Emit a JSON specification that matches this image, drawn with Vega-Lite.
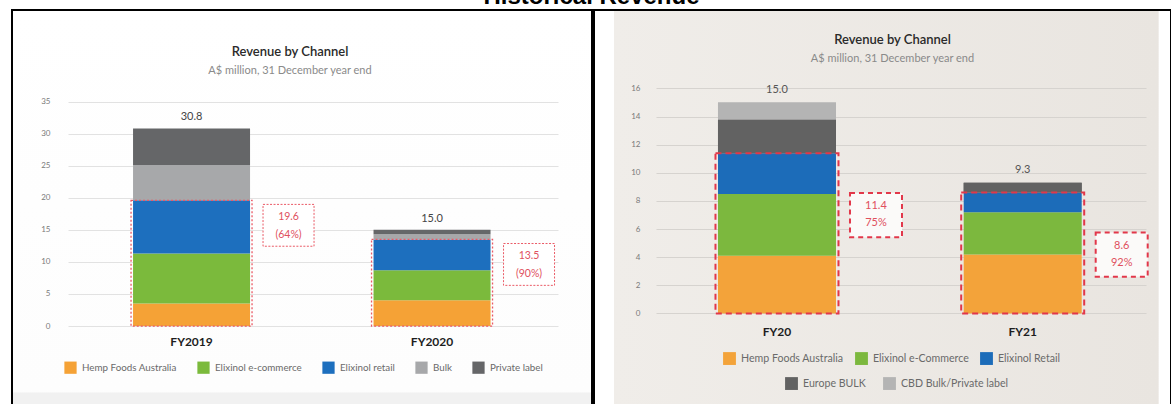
{
  "$schema": "https://vega.github.io/schema/vega-lite/v6.json",
  "padding": {"left": 11, "top": -15, "right": 0, "bottom": 0},
  "spacing": 0,
  "title": {
    "text": "Historical Revenue",
    "font": "Liberation Sans",
    "fontSize": 24,
    "fontWeight": "bold",
    "color": "#000000",
    "anchor": "middle",
    "offset": 0
  },
  "resolve": {
    "scale": {"color": "independent", "fill": "independent"},
    "legend": {"color": "independent", "fill": "independent"}
  },
  "config": {
    "font": "Lato",
    "view": {"stroke": "#000000", "strokeWidth": 2}
  },
  "datasets": {
    "left_rev": [
      {"fy": "FY2019", "channel": "Hemp Foods Australia", "value": 3.5},
      {"fy": "FY2019", "channel": "Elixinol e-commerce", "value": 7.8},
      {"fy": "FY2019", "channel": "Elixinol retail", "value": 8.3},
      {"fy": "FY2019", "channel": "Bulk", "value": 5.5},
      {"fy": "FY2019", "channel": "Private label", "value": 5.7},
      {"fy": "FY2020", "channel": "Hemp Foods Australia", "value": 4.0},
      {"fy": "FY2020", "channel": "Elixinol e-commerce", "value": 4.7},
      {"fy": "FY2020", "channel": "Elixinol retail", "value": 4.8},
      {"fy": "FY2020", "channel": "Bulk", "value": 0.8},
      {"fy": "FY2020", "channel": "Private label", "value": 0.7}
    ],
    "left_note": [
      {"fy": "FY2019", "core": 19.6, "pct": "(64%)"},
      {"fy": "FY2020", "core": 13.5, "pct": "(90%)"}
    ],
    "right_rev": [
      {"fy": "FY20", "channel": "Hemp Foods Australia", "value": 4.1},
      {"fy": "FY20", "channel": "Elixinol e-Commerce", "value": 4.4},
      {"fy": "FY20", "channel": "Elixinol Retail", "value": 2.9},
      {"fy": "FY20", "channel": "Europe BULK", "value": 2.4},
      {"fy": "FY20", "channel": "CBD Bulk/Private label", "value": 1.2},
      {"fy": "FY21", "channel": "Hemp Foods Australia", "value": 4.2},
      {"fy": "FY21", "channel": "Elixinol e-Commerce", "value": 3.0},
      {"fy": "FY21", "channel": "Elixinol Retail", "value": 1.4},
      {"fy": "FY21", "channel": "Europe BULK", "value": 0.7},
      {"fy": "FY21", "channel": "CBD Bulk/Private label", "value": 0.0}
    ],
    "right_note": [
      {"fy": "FY20", "core": 11.4, "pct": "75%"},
      {"fy": "FY21", "core": 8.6, "pct": "92%"}
    ]
  },
  "hconcat": [
    {
      "width": 580,
      "height": 398,
      "view": {
        "stroke": "#000000",
        "strokeWidth": 2,
        "fill": {
          "gradient": "linear", "x1": 0, "y1": 0, "x2": 0, "y2": 1,
          "stops": [
            {"offset": 0, "color": "#ffffff"},
            {"offset": 0.96, "color": "#fdfdfd"},
            {"offset": 0.962, "color": "#f1f1f1"},
            {"offset": 1, "color": "#f1f1f1"}
          ]
        }
      },
      "title": {
        "text": "Revenue by Channel",
        "subtitle": "A$ million, 31 December year end",
        "anchor": "middle",
        "fontSize": 13,
        "fontWeight": 600,
        "color": "#2a2a2a",
        "subtitleFontSize": 11,
        "subtitleColor": "#8a8a8a",
        "subtitlePadding": 6,
        "offset": -66,
        "dx": -12
      },
      "resolve": {"axis": {"y": "independent"}},
      "layer": [
        {
          "data": {"name": "left_rev"},
          "transform": [{"stack": "value", "groupby": ["fy"], "as": ["lo", "hi"]}],
          "mark": {"type": "bar", "width": 117},
          "encoding": {
            "x": {
              "field": "fy", "type": "nominal",
              "scale": {"type": "band", "paddingInner": 0.5135, "paddingOuter": 0.4626, "align": 0.544},
              "axis": {
                "orient": "bottom", "offset": -74, "labelPadding": 2, "ticks": false, "domain": false,
                "title": null, "labelAngle": 0, "labelFontSize": 12, "labelFontWeight": "bold", "labelColor": "#1e1e1e"
              }
            },
            "y": {
              "field": "hi", "type": "quantitative",
              "scale": {"domain": [-12.78, 49.27], "nice": false, "zero": false},
              "axis": {
                "orient": "left", "values": [0, 5, 10, 15, 20, 25, 30, 35], "offset": -40, "labelPadding": 2,
                "ticks": false, "domain": false, "grid": false, "title": null,
                "labelFontSize": 8, "labelColor": "#7a7a7a"
              }
            },
            "y2": {"field": "lo"},
            "color": {
              "field": "channel", "type": "nominal",
              "scale": {
                "domain": ["Hemp Foods Australia", "Elixinol e-commerce", "Elixinol retail", "Bulk", "Private label"],
                "range": ["#f5a236", "#7bba3c", "#1d6fbe", "#a7a8aa", "#656668"]
              },
              "legend": {
                "orient": "none", "legendX": 52, "legendY": 351, "direction": "horizontal", "columns": 5,
                "title": null, "symbolType": "square", "symbolSize": 150, "symbolStrokeWidth": 0,
                "labelFontSize": 9.8, "labelColor": "#6a6a6a", "labelOffset": 5, "columnPadding": 20
              }
            }
          }
        },
        {
          "data": {"name": "left_note"},
          "mark": {"type": "bar", "width": 121, "fillOpacity": 0, "stroke": "#ea5a66", "strokeWidth": 1.3, "strokeDash": [2, 2]},
          "encoding": {
            "x": {"field": "fy", "type": "nominal"},
            "y": {
              "field": "core", "type": "quantitative",
              "axis": {
                "orient": "left", "values": [0, 5, 10, 15, 20, 25, 30, 35], "offset": -56,
                "labels": false, "domain": false, "grid": false, "ticks": true,
                "tickSize": -490, "tickColor": "#e2e2e2", "tickWidth": 1, "title": null
              }
            },
            "y2": {"datum": 0}
          }
        },
        {
          "data": {"name": "left_rev"},
          "transform": [{"aggregate": [{"op": "sum", "field": "value", "as": "total"}], "groupby": ["fy"]}],
          "mark": {"type": "text", "baseline": "bottom", "dy": -6, "fontSize": 11, "color": "#444444"},
          "encoding": {
            "x": {"field": "fy", "type": "nominal"},
            "y": {"field": "total", "type": "quantitative", "axis": null},
            "text": {"field": "total", "type": "quantitative", "format": ".1f"}
          }
        },
        {
          "data": {"name": "left_note"},
          "mark": {
            "type": "point", "shape": "M-1,-0.82H1V0.82H-1Z", "size": 2601, "filled": true,
            "fill": "#ffffff", "stroke": "#ea5a66", "strokeWidth": 1, "strokeDash": [2, 1.5],
            "opacity": 1, "xOffset": 97, "yOffset": 25
          },
          "encoding": {
            "x": {"field": "fy", "type": "nominal"},
            "y": {"field": "core", "type": "quantitative", "axis": null}
          }
        },
        {
          "data": {"name": "left_note"},
          "mark": {"type": "text", "dx": 97, "dy": 17, "fontSize": 10.5, "color": "#e0505e"},
          "encoding": {
            "x": {"field": "fy", "type": "nominal"},
            "y": {"field": "core", "type": "quantitative", "axis": null},
            "text": {"field": "core", "type": "quantitative", "format": ".1f"}
          }
        },
        {
          "data": {"name": "left_note"},
          "mark": {"type": "text", "dx": 97, "dy": 35, "fontSize": 10.5, "color": "#e0505e"},
          "encoding": {
            "x": {"field": "fy", "type": "nominal"},
            "y": {"field": "core", "type": "quantitative", "axis": null},
            "text": {"field": "pct", "type": "nominal"}
          }
        }
      ]
    },
    {
      "width": 577,
      "height": 398,
      "view": {
        "stroke": "#000000",
        "strokeWidth": 2,
        "fill": {
          "gradient": "linear", "x1": 0, "y1": 0, "x2": 1, "y2": 0,
          "stops": [
            {"offset": 0, "color": "#ffffff"},
            {"offset": 0.034, "color": "#ffffff"},
            {"offset": 0.035, "color": "#f0ede9"},
            {"offset": 0.978, "color": "#e9e5e0"},
            {"offset": 0.979, "color": "#ffffff"},
            {"offset": 1, "color": "#ffffff"}
          ]
        }
      },
      "title": {
        "text": "Revenue by Channel",
        "subtitle": "A$ million, 31 December year end",
        "anchor": "middle",
        "fontSize": 13,
        "fontWeight": 600,
        "color": "#2a2a2a",
        "subtitleFontSize": 11,
        "subtitleColor": "#8a8a8a",
        "subtitlePadding": 6,
        "offset": -54,
        "dx": 10
      },
      "resolve": {"axis": {"y": "independent"}},
      "layer": [
        {
          "data": {"name": "right_rev"},
          "transform": [{"stack": "value", "groupby": ["fy"], "as": ["lo", "hi"]}],
          "mark": {"type": "bar", "width": 118},
          "encoding": {
            "x": {
              "field": "fy", "type": "nominal",
              "scale": {"type": "band", "paddingInner": 0.5197, "paddingOuter": 0.434, "align": 0.5813},
              "axis": {
                "orient": "bottom", "offset": -84, "labelPadding": 2, "ticks": false, "domain": false,
                "title": null, "labelAngle": 0, "labelFontSize": 12, "labelFontWeight": "bold", "labelColor": "#1e1e1e"
              }
            },
            "y": {
              "field": "hi", "type": "quantitative",
              "scale": {"domain": [-6.72, 21.58], "nice": false, "zero": false},
              "axis": {
                "orient": "left", "values": [0, 2, 4, 6, 8, 10, 12, 14, 16], "offset": -48, "labelPadding": 2,
                "ticks": false, "domain": false, "grid": false, "title": null,
                "labelFontSize": 8, "labelColor": "#7a7a7a"
              }
            },
            "y2": {"field": "lo"},
            "fill": {
              "field": "channel", "type": "nominal",
              "scale": {
                "domain": ["Hemp Foods Australia", "Elixinol e-Commerce", "Elixinol Retail", "Europe BULK", "CBD Bulk/Private label"],
                "range": ["#f3a33a", "#7cb83e", "#1c6cb9", "#626262", "#b4b4b4"]
              },
              "legend": {
                "orient": "none", "legendX": 129, "legendY": 342, "direction": "horizontal", "columns": 3,
                "values": ["Hemp Foods Australia", "Elixinol e-Commerce", "Elixinol Retail"],
                "title": null, "symbolType": "square", "symbolSize": 165, "symbolStrokeWidth": 0,
                "labelFontSize": 10.6, "labelColor": "#6a6a6a", "labelOffset": 5, "columnPadding": 11
              }
            }
          }
        },
        {
          "data": {"name": "right_rev"},
          "transform": [
            {"stack": "value", "groupby": ["fy"], "as": ["lo", "hi"]},
            {"filter": {"field": "channel", "oneOf": ["Europe BULK", "CBD Bulk/Private label"]}}
          ],
          "mark": {"type": "bar", "width": 118},
          "encoding": {
            "x": {"field": "fy", "type": "nominal"},
            "y": {"field": "hi", "type": "quantitative", "axis": null},
            "y2": {"field": "lo"},
            "color": {
              "field": "channel", "type": "nominal",
              "scale": {"domain": ["Europe BULK", "CBD Bulk/Private label"], "range": ["#626262", "#b4b4b4"]},
              "legend": {
                "orient": "none", "legendX": 191, "legendY": 367, "direction": "horizontal", "columns": 2,
                "title": null, "symbolType": "square", "symbolSize": 165, "symbolStrokeWidth": 0,
                "labelFontSize": 10.6, "labelColor": "#6a6a6a", "labelOffset": 5, "columnPadding": 17
              }
            }
          }
        },
        {
          "data": {"name": "right_note"},
          "mark": {"type": "bar", "width": 123, "fillOpacity": 0, "stroke": "#e2374a", "strokeWidth": 2, "strokeDash": [6, 4]},
          "encoding": {
            "x": {"field": "fy", "type": "nominal"},
            "y": {
              "field": "core", "type": "quantitative",
              "axis": {
                "orient": "left", "values": [0, 2, 4, 6, 8, 10, 12, 14, 16], "offset": -62,
                "labels": false, "domain": false, "grid": false, "ticks": true,
                "tickSize": -490, "tickColor": "#d6d3cf", "tickWidth": 1, "title": null
              }
            },
            "y2": {"datum": 0}
          }
        },
        {
          "data": {"name": "right_rev"},
          "transform": [{"aggregate": [{"op": "sum", "field": "value", "as": "total"}], "groupby": ["fy"]}],
          "mark": {"type": "text", "baseline": "bottom", "dy": -8, "fontSize": 11, "color": "#555555"},
          "encoding": {
            "x": {"field": "fy", "type": "nominal"},
            "y": {"field": "total", "type": "quantitative", "axis": null},
            "text": {"field": "total", "type": "quantitative", "format": ".1f"}
          }
        },
        {
          "data": {"name": "right_note"},
          "mark": {
            "type": "point", "shape": "M-1,-0.85H1V0.85H-1Z", "size": 2704, "filled": true,
            "fill": "#fbfaf9", "stroke": "#e2374a", "strokeWidth": 2, "strokeDash": [5, 4],
            "opacity": 1, "xOffset": 99, "yOffset": 62
          },
          "encoding": {
            "x": {"field": "fy", "type": "nominal"},
            "y": {"field": "core", "type": "quantitative", "axis": null}
          }
        },
        {
          "data": {"name": "right_note"},
          "mark": {"type": "text", "dx": 99, "dy": 53, "fontSize": 11, "color": "#e0505e"},
          "encoding": {
            "x": {"field": "fy", "type": "nominal"},
            "y": {"field": "core", "type": "quantitative", "axis": null},
            "text": {"field": "core", "type": "quantitative", "format": ".1f"}
          }
        },
        {
          "data": {"name": "right_note"},
          "mark": {"type": "text", "dx": 99, "dy": 70, "fontSize": 11, "color": "#e0505e"},
          "encoding": {
            "x": {"field": "fy", "type": "nominal"},
            "y": {"field": "core", "type": "quantitative", "axis": null},
            "text": {"field": "pct", "type": "nominal"}
          }
        }
      ]
    }
  ]
}
